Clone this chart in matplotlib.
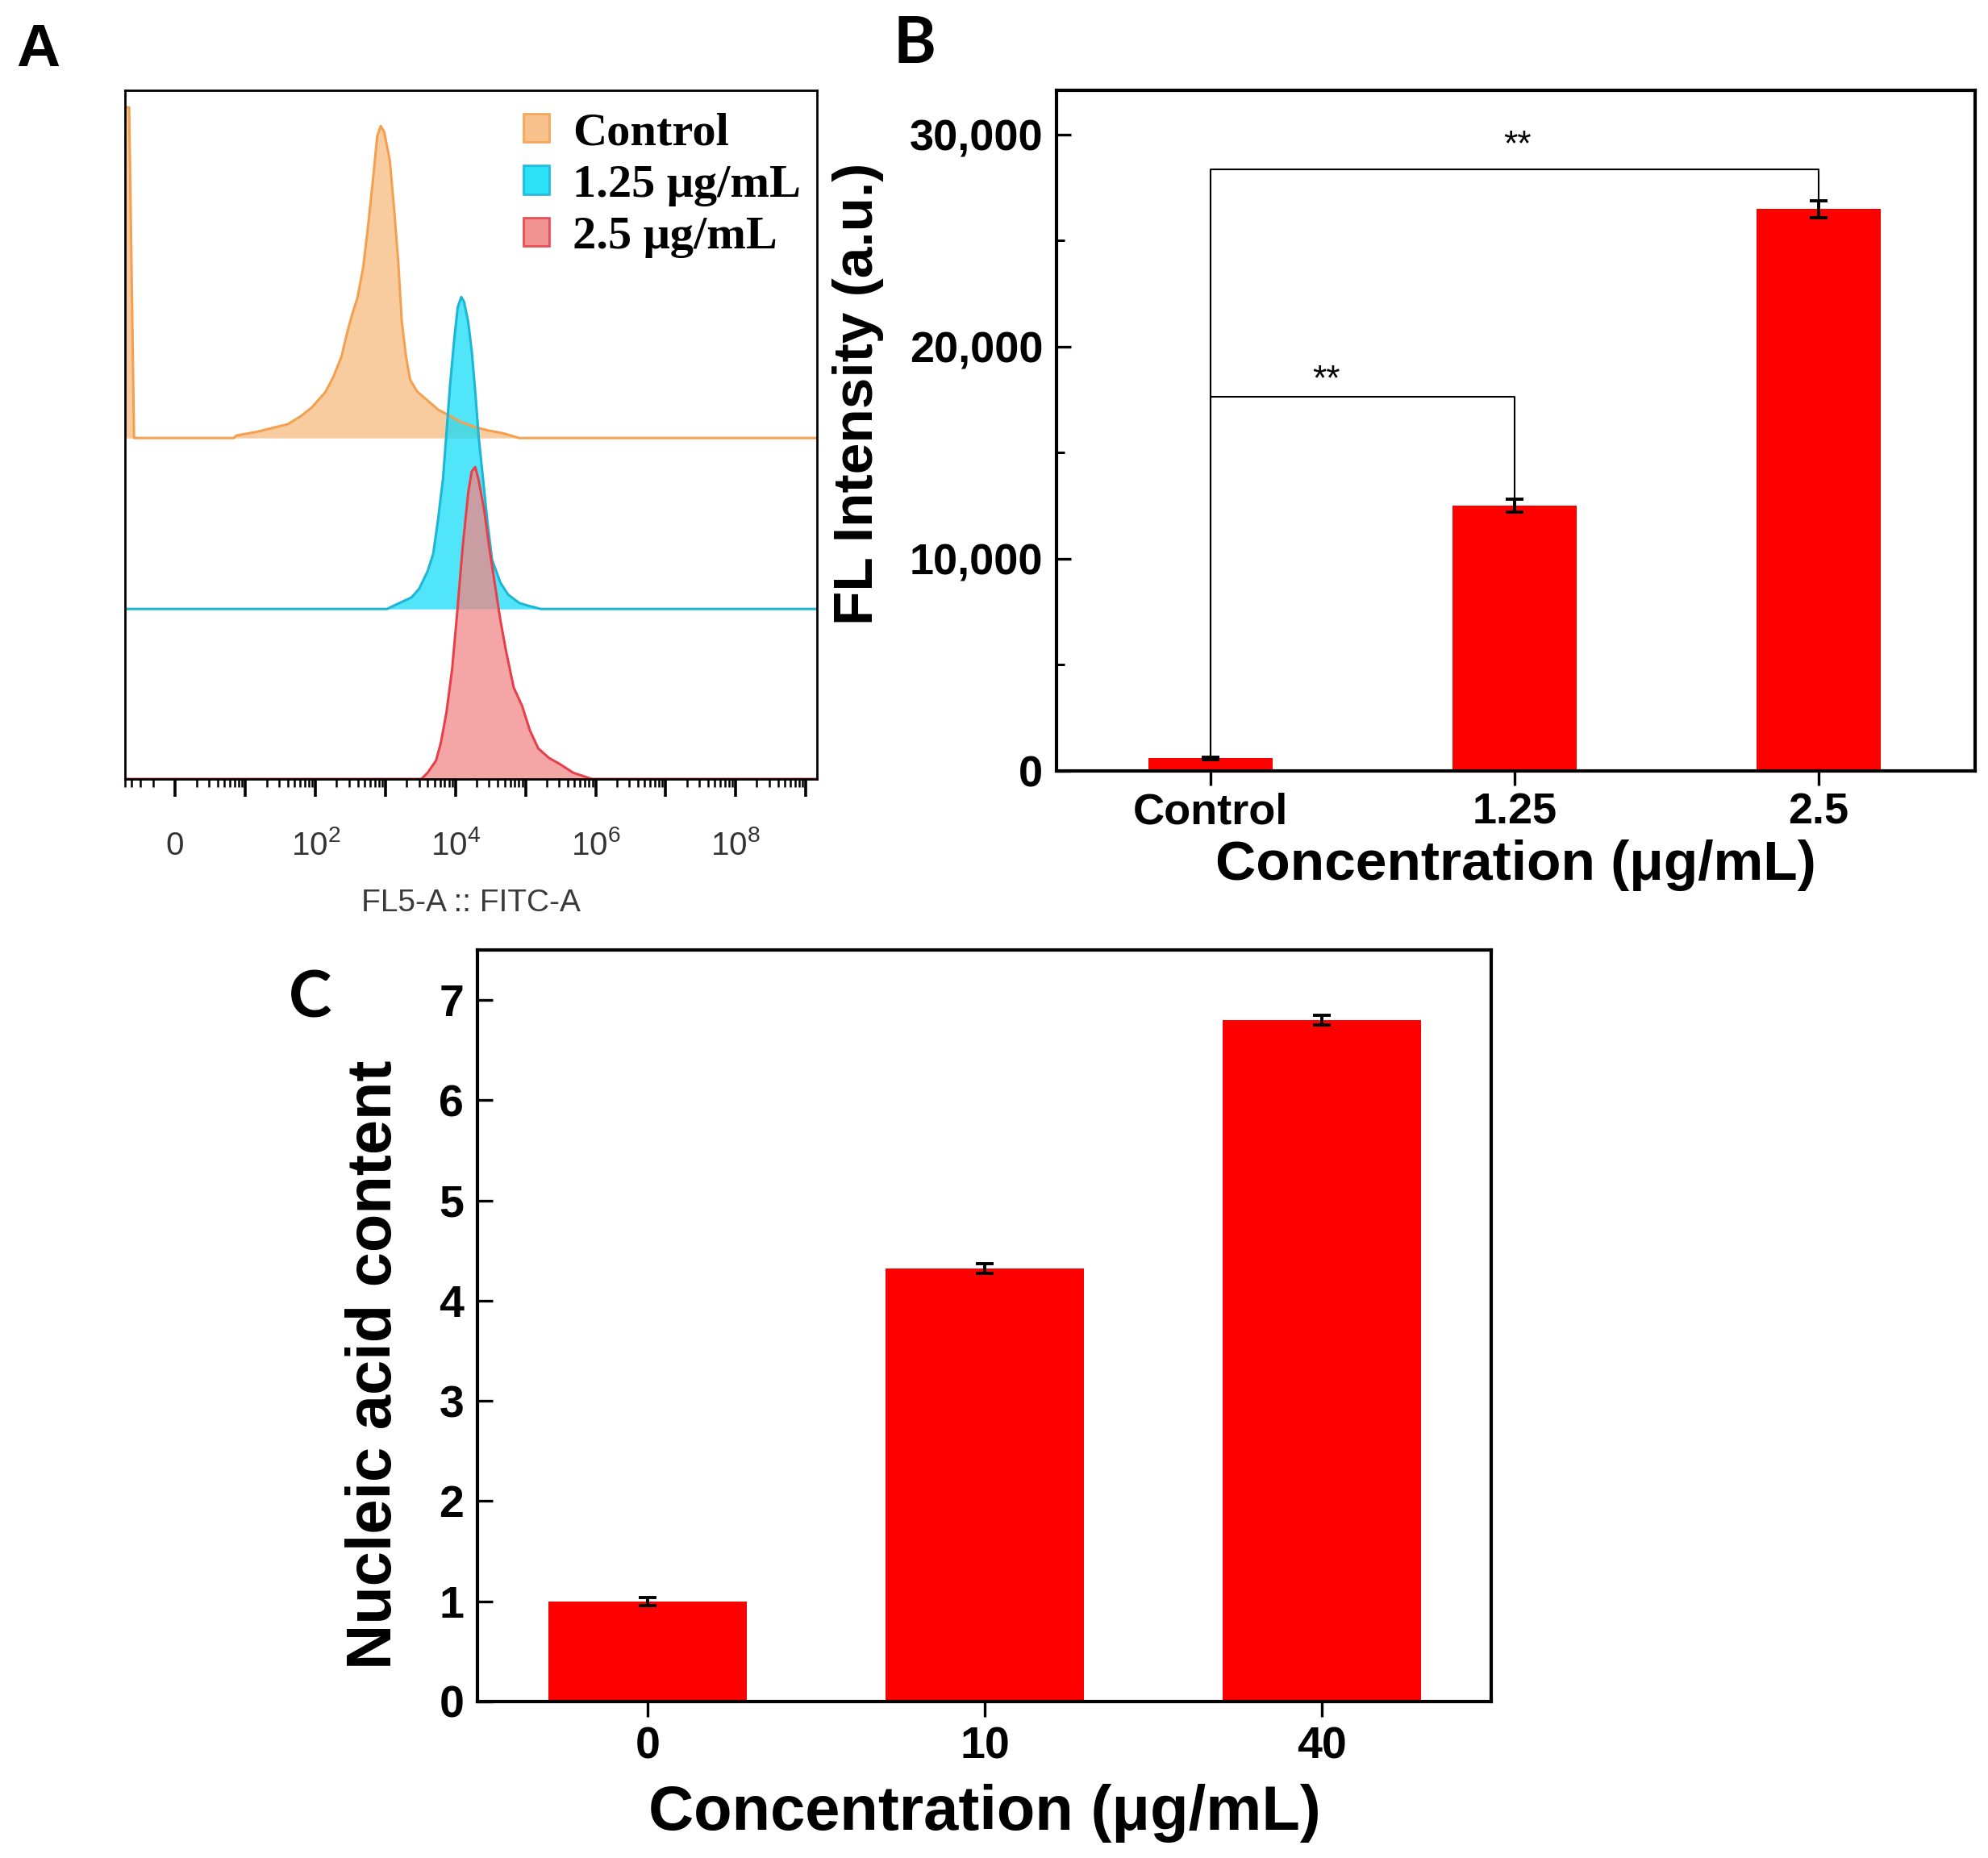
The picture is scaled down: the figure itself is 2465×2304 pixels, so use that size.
import numpy as np
import matplotlib
matplotlib.use("Agg")
import matplotlib.pyplot as plt
from matplotlib.patches import Patch
from matplotlib.ticker import FixedLocator, NullLocator, StrMethodFormatter, MultipleLocator

plt.rcParams['font.family'] = ['Liberation Sans', 'DejaVu Sans']
plt.rcParams['mathtext.fontset'] = 'custom'
plt.rcParams['mathtext.rm'] = 'Liberation Sans'

# ---------------- A: flow cytometry histograms ----------------
# x = signed decades of FL5-A (log10), y = % of mode
ctrl_dec = [-0.70, -0.64, -0.57, 0.83, 0.87, 1.14, 1.22, 1.45, 1.60, 1.79, 1.95, 2.14, 2.25,
            2.37, 2.45, 2.52, 2.60, 2.68, 2.75, 2.83, 2.88, 2.93, 2.98, 3.06, 3.12, 3.18, 3.23,
            3.29, 3.35, 3.45, 3.60, 3.75, 3.91, 4.06, 4.29, 4.45, 4.68, 4.91, 9.20]
ctrl_pct = [106, 106, 0, 0, 0.8, 1.9, 2.3, 3.6, 4.4, 7.0, 9.9, 14.7, 19.4,
            26.1, 33.7, 39.4, 45.1, 54.7, 68.0, 85.1, 96.6, 100, 98.1, 89.0, 73.8, 56.7, 37.7,
            26.3, 18.7, 14.9, 12.0, 9.1, 7.2, 5.3, 3.4, 2.5, 1.5, 0, 0]

cyan_dec = [-0.70, 3.02, 3.14, 3.37, 3.48, 3.60, 3.68, 3.75, 3.82, 3.87, 3.92, 3.98, 4.03, 4.08,
            4.12, 4.18, 4.23, 4.28, 4.33, 4.39, 4.45, 4.52, 4.64, 4.75, 4.91, 5.06, 5.22, 9.20]
cyan_pct = [0, 0, 1.3, 3.7, 6.5, 12.1, 17.7, 28.8, 41.8, 56.7, 71.6, 86.4, 96.7, 100,
            98.5, 92.0, 82.7, 69.7, 55.0, 42.0, 28.8, 15.8, 8.4, 4.6, 1.9, 0.9, 0, 0]

red_dec = [-0.70, 3.51, 3.60, 3.72, 3.79, 3.87, 3.95, 4.02, 4.10, 4.18, 4.23, 4.28, 4.33, 4.41,
           4.48, 4.56, 4.64, 4.72, 4.83, 4.95, 5.06, 5.18, 5.33, 5.48, 5.68, 5.95, 9.20]
red_pct = [0, 0, 2.0, 5.9, 11.7, 21.5, 35.2, 52.7, 74.2, 91.8, 98.6, 100, 95.7, 85.9,
           74.2, 62.5, 50.8, 41.0, 29.3, 23.4, 15.6, 9.8, 6.8, 4.9, 2.0, 0, 0]

hist_names = ['Control', '1.25 μg/mL', '2.5 μg/mL']

# ---------------- B: FL intensity ----------------
b_labels = ['Control', '1.25', '2.5']
b_mean = [600, 12500, 26500]
b_err = [60, 300, 400]
b_bracket_top = [17640, 28370]   # bracket height, control vs bar 1 / bar 2
b_sig = ['**', '**']

# ---------------- C: nucleic acid content ----------------
c_labels = ['0', '10', '40']
c_mean = [1.00, 4.32, 6.80]
c_err = [0.04, 0.05, 0.05]


def to_fl(d):
    d = np.asarray(d, dtype=float)
    return np.sign(d) * 10 ** np.abs(d)


W, H = 2465, 2304
fig = plt.figure(figsize=(W / 100, H / 100), dpi=100)


def box(l, t, r, b):
    return [l / W, 1 - b / H, (r - l) / W, (b - t) / H]


# ======== panel A ========
axA = fig.add_axes(box(155, 112, 1013, 966))
axA.set_xscale('symlog', linthresh=1, linscale=0.01)
offsets = [109.3, 54.5, 0.0]
line_cols = ['#F5A04F', '#1DB6D6', '#E8404A']
fill_cols = ['#F8BC80', '#15DDF8', '#F18787']
traces = [(ctrl_dec, ctrl_pct), (cyan_dec, cyan_pct), (red_dec, red_pct)]
for (dec, pct), off, lc, fc in zip(traces, offsets, line_cols, fill_cols):
    x = to_fl(dec)
    y = np.array(pct) + off
    axA.fill_between(x, off, y, color=fc, alpha=0.75, lw=0)
    axA.plot(x, y, color=lc, lw=2.2)

axA.set_xlim(-5.0, 10 ** 9.16)
axA.set_ylim(0, 220.75)
axA.yaxis.set_major_locator(NullLocator())
major = [0] + [10 ** k for k in range(1, 10)]
axA.xaxis.set_major_locator(FixedLocator(major))
minor = [-k for k in range(2, 6)] + [m * 10 ** k for k in range(0, 9) for m in range(2, 10)]
axA.xaxis.set_minor_locator(FixedLocator(minor))
labs = []
for v in major:
    if v == 0:
        labs.append('0')
    elif int(round(np.log10(v))) % 2 == 0:
        labs.append('$\\mathregular{10^{%d}}$' % int(round(np.log10(v))))
    else:
        labs.append('')
axA.set_xticklabels(labs)
axA.tick_params(axis='x', which='major', direction='out', length=16, width=2.6,
                labelsize=29, labelcolor='#333333', pad=52)
axA.tick_params(axis='x', which='minor', direction='out', length=7, width=1.8)
for lab in axA.get_xticklabels():
    lab.set_va('baseline')
for s in axA.spines.values():
    s.set_linewidth(2)
axA.set_xlabel('FL5-A :: FITC-A', fontsize=28, color='#3a3a3a', labelpad=24)

handles = [Patch(facecolor=fc, edgecolor=lc, alpha=0.9, lw=2) for fc, lc in zip(fill_cols, line_cols)]
axA.legend(handles, hist_names, loc='upper left', bbox_to_anchor=(0.576, 0.968),
           frameon=False, borderpad=0, borderaxespad=0, handlelength=0.55, handleheight=0.55,
           handletextpad=0.5, labelspacing=0.21,
           prop={'family': 'Liberation Serif', 'weight': 'bold', 'size': 42})

# ======== panel B ========
axB = fig.add_axes(box(1310, 112, 2449, 956))
xb = np.arange(len(b_labels))
axB.bar(xb, b_mean, width=0.41, color='#FF0000', zorder=2)
axB.errorbar(xb, b_mean, yerr=b_err, fmt='none', ecolor='black', elinewidth=2.8,
             capsize=8, capthick=2.8, zorder=3)
for i, (top, sig) in enumerate(zip(b_bracket_top, b_sig), start=1):
    axB.plot([0, 0, i, i], [b_mean[0] + b_err[0], top, top, b_mean[i] + b_err[i]],
             color='black', lw=1.5, zorder=4)
star_x = [0.38, 1.01]
star_y = [17990, 29050]
for sx, sy, sig in zip(star_x, star_y, b_sig):
    axB.text(sx, sy, sig, ha='center', va='baseline', fontsize=32)
axB.set_xlim(-0.507, 2.515)
axB.set_ylim(0, 32090)
axB.set_xticks(xb)
axB.set_xticklabels(b_labels)
axB.yaxis.set_major_locator(MultipleLocator(10000))
axB.yaxis.set_minor_locator(MultipleLocator(5000))
axB.yaxis.set_major_formatter(StrMethodFormatter('{x:,.0f}'))
axB.tick_params(axis='y', which='major', direction='in', length=13, width=2.4, labelsize=39, pad=12)
axB.tick_params(axis='y', which='minor', direction='in', length=7, width=2.2)
axB.tick_params(axis='x', direction='out', length=13, width=2.4, labelsize=39, pad=6)
for lab in axB.get_xticklabels() + axB.get_yticklabels():
    lab.set_fontweight('bold')
for s in axB.spines.values():
    s.set_linewidth(3)
axB.set_xlabel('Concentration (μg/mL)', fontsize=50, fontweight='bold', labelpad=6)
axB.set_ylabel('FL Intensity (a.u.)', fontsize=50, fontweight='bold')
axB.yaxis.set_label_coords(-0.188, 0.5545)

# ======== panel C ========
axC = fig.add_axes(box(592, 1178, 1849, 2110))
xc = np.arange(len(c_labels))
axC.bar(xc, c_mean, width=0.59, color='#FF0000', zorder=2)
axC.errorbar(xc, c_mean, yerr=c_err, fmt='none', ecolor='black', elinewidth=2.8,
             capsize=8, capthick=2.8, zorder=3)
axC.set_xlim(-0.505, 2.502)
axC.set_ylim(0, 7.5)
axC.set_xticks(xc)
axC.set_xticklabels(c_labels)
axC.yaxis.set_major_locator(MultipleLocator(1))
axC.tick_params(axis='y', direction='in', length=14, width=2.4, labelsize=40, pad=12)
axC.tick_params(axis='x', direction='out', length=14, width=2.4, labelsize=40, pad=8)
for lab in axC.get_xticklabels() + axC.get_yticklabels():
    lab.set_fontweight('bold')
for s in axC.spines.values():
    s.set_linewidth(3)
axC.set_xlabel('Concentration (μg/mL)', fontsize=56, fontweight='bold', labelpad=14)
axC.set_ylabel('Nucleic acid content', fontsize=56, fontweight='bold')
axC.yaxis.set_label_coords(-0.072, 0.4485)

# panel letters
fig.text(47 / W, 1 - 62 / H, 'A', ha='center', va='center', fontsize=54, fontweight='bold')
fig.text(1134 / W, 1 - 55 / H, 'B', ha='center', va='center', fontsize=58, fontweight='bold',
         family=['Lato', 'DejaVu Sans'])
fig.text(385 / W, 1 - 1238 / H, 'C', ha='center', va='center', fontsize=58, fontweight='bold',
         family=['Lato', 'DejaVu Sans'])

fig.savefig('out.png', dpi=100)
